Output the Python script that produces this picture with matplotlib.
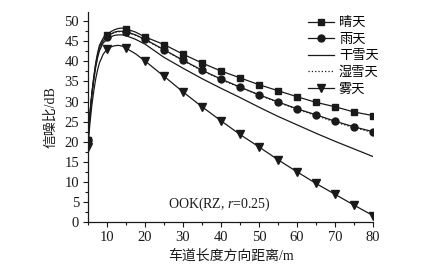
import matplotlib
matplotlib.use("Agg")
import matplotlib.pyplot as plt

plt.rcParams['font.family'] = ['Liberation Serif', 'Noto Sans CJK SC']
plt.rcParams['mathtext.fontset'] = 'custom'
plt.rcParams['mathtext.rm'] = 'Liberation Serif'
plt.rcParams['mathtext.it'] = 'Liberation Serif:italic'

# distance along lane (m)
dist = [5, 5.5, 6, 6.5, 7, 7.5, 8, 9, 10, 11, 12, 13, 14, 15, 17.5, 20,
        25, 30, 35, 40, 45, 50, 55, 60, 65, 70, 75, 80]

clear = [20.5, 27.0, 32.0, 36.0, 39.5, 42.0, 44.0, 45.8, 46.5, 47.4, 47.9, 48.2, 48.3, 48.1, 47.3, 46.1,
         44.2, 41.8, 39.6, 37.6, 35.9, 34.2, 32.7, 31.2, 29.8, 28.7, 27.4, 26.5]
rain = [20.5, 26.8, 31.8, 35.7, 39.0, 41.5, 43.4, 45.2, 46.0, 46.8, 47.3, 47.5, 47.5, 47.4, 46.6, 45.5,
        42.9, 40.3, 37.8, 35.6, 33.6, 31.7, 29.9, 28.2, 26.7, 25.1, 23.7, 22.5]
wet_snow = [20.4, 26.7, 31.7, 35.6, 38.9, 41.4, 43.3, 45.1, 45.9, 46.7, 47.2, 47.4, 47.4, 47.3, 46.5, 45.4,
            42.8, 40.2, 37.7, 35.5, 33.5, 31.6, 29.8, 28.1, 26.5, 24.9, 23.5, 22.3]
dry_snow = [20.3, 26.5, 31.4, 35.2, 38.4, 40.8, 42.6, 44.6, 45.5, 46.1, 46.5, 46.6, 46.6, 46.4, 45.5, 44.3,
            41.0, 38.3, 35.7, 33.3, 31.0, 28.6, 26.3, 24.2, 22.1, 20.1, 18.2, 16.3]
fog = [18.8, 24.5, 29.0, 32.5, 35.5, 37.8, 39.6, 41.8, 43.0, 43.6, 43.9, 44.0, 43.8, 43.3, 41.9, 40.1,
       36.3, 32.4, 28.7, 25.2, 21.8, 18.7, 15.5, 12.5, 9.6, 6.9, 4.2, 1.6]

labels = ['晴天', '雨天', '干雪天', '湿雪天', '雾天']
xticks = [10, 20, 30, 40, 50, 60, 70, 80]
yticks = [0, 5, 10, 15, 20, 25, 30, 35, 40, 45, 50]

marks = [i for i, d in enumerate(dist) if d % 5 == 0]

fig = plt.figure(figsize=(4.22, 2.70), dpi=100)
ax = fig.add_axes([88/422, 48/270, 285/422, 210/270])

c = '#1a1a1a'
ax.plot(dist, clear, color=c, lw=0.9, marker='s', ms=5, markevery=marks, label=labels[0], zorder=3)
ax.plot(dist, rain, color=c, lw=0.9, marker='o', ms=5, markevery=marks, label=labels[1], zorder=3)
ax.plot(dist, dry_snow, color=c, lw=0.9, label=labels[2], zorder=2)
ax.plot(dist, wet_snow, color=c, lw=0.9, ls=':', label=labels[3], zorder=4)
ax.plot(dist, fog, color=c, lw=0.9, marker='v', ms=6, markevery=marks, label=labels[4], zorder=3)

ax.set_xlim(5, 80)
ax.set_ylim(0, 52.3)
ax.set_xticks(xticks)
ax.set_yticks(yticks)
ax.set_xticks([5, 15, 25, 35, 45, 55, 65, 75], minor=True)
ax.set_yticks([2.5 + 5*i for i in range(10)], minor=True)
ax.tick_params(which='major', direction='out', length=3.5, width=0.8, labelsize=10.5, pad=3, colors=c)
ax.tick_params(which='minor', direction='out', length=2, width=0.8, colors=c)
for s in ['top', 'right']:
    ax.spines[s].set_visible(False)
for s in ['left', 'bottom']:
    ax.spines[s].set_linewidth(0.9)
    ax.spines[s].set_color(c)

ax.set_xlabel('车道长度方向距离/m', fontsize=10, labelpad=4, color=c)
ax.set_ylabel('信噪比/dB', fontsize=10, labelpad=5, color=c)

ax.text(39.5, 4.5, 'OOK(RZ, $\\mathit{r}$=0.25)', fontsize=10, ha='center', va='center', color=c)

leg = ax.legend(loc='upper left', bbox_to_anchor=(308/422, 1 - 17/270), bbox_transform=fig.transFigure,
                frameon=False, fontsize=9.5, handlelength=2.0, handletextpad=0.35,
                labelspacing=0.32, borderaxespad=0, borderpad=0)

fig.savefig('out.png', dpi=100)
